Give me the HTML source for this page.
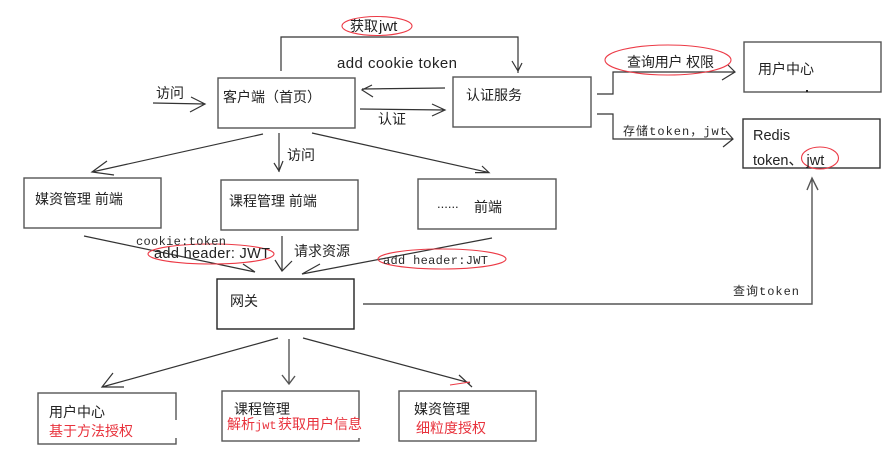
<!DOCTYPE html>
<html lang="zh">
<head>
<meta charset="utf-8">
<title>Diagram</title>
<style>
html,body{margin:0;padding:0;background:#fff;width:894px;height:462px;overflow:hidden}
svg{display:block;filter:blur(.25px)}
text{font-family:"Liberation Sans","Noto Sans CJK SC",sans-serif;font-size:14px;fill:#222}
.m{font-family:"Liberation Mono","Noto Sans CJK SC",monospace;font-size:12px;fill:#2a2a2a}
.r{fill:#e8323c}
.b{fill:#fff;stroke:#555;stroke-width:1.4}
.l{fill:none;stroke:#333;stroke-width:1.2}
.e{fill:none;stroke:#ec3a46;stroke-width:1.1}
</style>
</head>
<body>
<svg width="894" height="462" viewBox="0 0 894 462" xmlns="http://www.w3.org/2000/svg">
<!-- boxes -->
<rect class="b" x="218" y="78" width="137" height="50"/>
<rect class="b" x="453" y="77" width="138" height="50"/>
<rect class="b" x="744" y="42" width="137" height="50"/>
<rect class="b" x="743" y="119" width="137" height="49" style="stroke:#333"/>
<rect class="b" x="24" y="178" width="137" height="50"/>
<rect class="b" x="221" y="180" width="137" height="50"/>
<rect class="b" x="418" y="179" width="138" height="50"/>
<rect class="b" x="217" y="279" width="137" height="50" style="stroke:#222"/>
<rect class="b" x="38" y="393" width="138" height="51"/>
<rect x="174" y="420" width="4" height="18" fill="#fff"/>
<rect class="b" x="222" y="391" width="137" height="50"/>
<rect x="357" y="420" width="4" height="18" fill="#fff"/>
<rect class="b" x="399" y="391" width="137" height="50"/>
<rect x="806" y="90" width="2" height="2" fill="#222"/>

<!-- connectors -->
<g class="l">
<path d="M281 71V37H518V73M512 61L518 71L522 63"/>
<path d="M445 88L362 89M372 85L362 90L373 97"/>
<path d="M360 109L445 110M432 104L445 110L432 116"/>
<path d="M153 103L205 104M191 97L205 104L190 112"/>
<path d="M263 134L92 172M107 161L92 172L114 175"/>
<path d="M279 133V172M274 163L279 171L283 161"/>
<path d="M312 133L489 172.6M482 166L489 172.6L475 172.6"/>
<path d="M597 94H613V72H735M728 65L735 72L722 80"/>
<path d="M597 114H613V139H733M726 131L733 139L723 147"/>
<path d="M84 236L255 272M243 264L255 272"/>
<path d="M282 236V271M275 260L282 271L292 261"/>
<path d="M492 238L302 274L320 264"/>
<path d="M363 304H812V178M807 190L812 178L818 190" style="stroke:#555;stroke-width:1.4"/>
<path d="M278 338L102 387M113 373L102 387H124"/>
<path d="M289 339V384M282 375L289 384L295 376" style="stroke:#555;stroke-width:1.4"/>
<path d="M303 338L470 383M459 375L472 387"/>
</g>
<path d="M450 385L470 382" fill="none" stroke="#ec3a46" stroke-width="1.1"/>

<!-- ellipses -->
<ellipse class="e" cx="377" cy="26" rx="35" ry="9.5"/>
<ellipse class="e" cx="668" cy="60" rx="63" ry="15"/>
<ellipse class="e" cx="820" cy="158" rx="18.500" ry="11"/>
<ellipse class="e" cx="211" cy="254" rx="63" ry="10"/>
<ellipse class="e" cx="442" cy="259" rx="64" ry="10"/>

<!-- labels -->
<text x="350" y="31">获取<tspan x="379" style="font-size:15px">jwt</tspan></text>
<text x="337" y="68" textLength="120" style="font-size:15px">add cookie token</text>
<text x="156" y="98">访问</text>
<text x="223" y="102">客户端（首页）</text>
<text x="378" y="124">认证</text>
<text x="466" y="100">认证服务</text>
<text x="627" y="67" textLength="87">查询用户 权限</text>
<text x="758" y="74">用户中心</text>
<text x="623" y="135" class="m" textLength="104">存储token，jwt</text>
<text x="753" y="140" style="font-size:14.500px">Redis</text>
<text x="753" y="165" style="font-size:14.500px">token、<tspan x="806.500">jwt</tspan></text>
<text x="287" y="160">访问</text>
<text x="35" y="204">媒资管理 前端</text>
<text x="229" y="206">课程管理 前端</text>
<text x="437" y="208" style="font-size:13px">......</text>
<text x="474" y="212">前端</text>
<text x="136" y="245" class="m" textLength="90">cookie:token</text>
<text x="154" y="258" textLength="116" style="font-size:14.500px">add  header: JWT</text>
<text x="294" y="256">请求资源</text>
<text x="383" y="264" class="m" textLength="105">add header:JWT</text>
<text x="230" y="306">网关</text>
<text x="733" y="295" class="m" textLength="66">查询token</text>
<text x="49" y="417">用户中心</text>
<text x="49" y="436" class="r">基于方法授权</text>
<text x="234" y="414">课程管理</text>
<text x="227" y="429" class="r">解析<tspan x="255" class="m r" style="font-size:12px">jwt</tspan><tspan x="278">获取用户信息</tspan></text>
<text x="414" y="414">媒资管理</text>
<text x="416" y="433" class="r">细粒度授权</text>
</svg>
</body>
</html>
